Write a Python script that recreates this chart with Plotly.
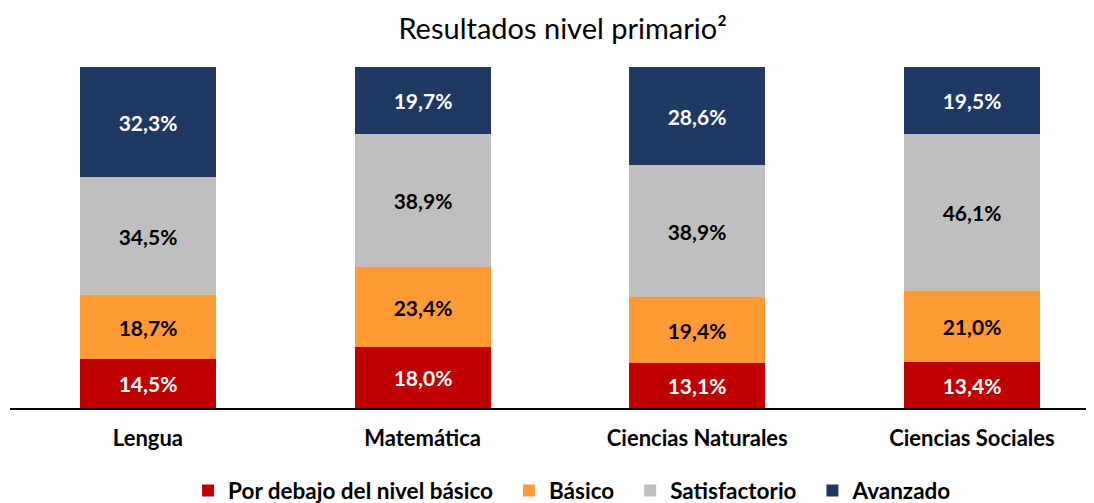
import plotly.graph_objects as go

materias = ["Lengua", "Matemática", "Ciencias Naturales", "Ciencias Sociales"]
por_debajo = [14.5, 18.0, 13.1, 13.4]
basico = [18.7, 23.4, 19.4, 21.0]
satisfactorio = [34.5, 38.9, 38.9, 46.1]
avanzado = [32.3, 19.7, 28.6, 19.5]

series = [
    ("Por debajo del nivel básico", por_debajo, "#C00000", "white"),
    ("Básico", basico, "#FF9A35", "black"),
    ("Satisfactorio", satisfactorio, "#BFBFBF", "black"),
    ("Avanzado", avanzado, "#203864", "white"),
]

FONT = "Lato"
pad = "\u00a0\u00a0"  # a bit more space between legend entries

fig = go.Figure()
for name, vals, color, tcolor in series:
    fig.add_trace(go.Bar(
        x=materias, y=vals, name=name + pad,
        marker=dict(color=color, line=dict(width=0)),
        width=0.495,
        text=[f"{v:.1f}%".replace(".", ",") for v in vals],
        textposition="inside", insidetextanchor="middle",
        textangle=0,
        textfont=dict(family=FONT, size=21, color=tcolor, weight="bold"),
    ))

fig.update_layout(
    barmode="stack",
    width=1094, height=503,
    paper_bgcolor="white", plot_bgcolor="white",
    margin=dict(l=2, r=10, t=59, b=103, autoexpand=False),
    title=dict(text="Resultados nivel primario²", x=0.507, xanchor="center",
               y=0.979, yanchor="top",
               font=dict(family=FONT, size=29, color="black")),
    font=dict(family=FONT, color="black"),
    xaxis=dict(range=[-0.502, 3.437], showline=True, linecolor="black",
               linewidth=2, ticks="", showgrid=False, automargin=False,
               ticklabelstandoff=10,
               tickfont=dict(family=FONT, size=22, color="black", weight="bold")),
    yaxis=dict(range=[0, 100], visible=False, showgrid=False, automargin=False),
    legend=dict(orientation="h", x=0.525, xanchor="center",
                yref="container", y=0.04, yanchor="middle",
                traceorder="normal",
                font=dict(family=FONT, size=22.5, color="black", weight="bold"),
                itemwidth=30),
    bargap=0,
)

fig.write_html("out.html")
